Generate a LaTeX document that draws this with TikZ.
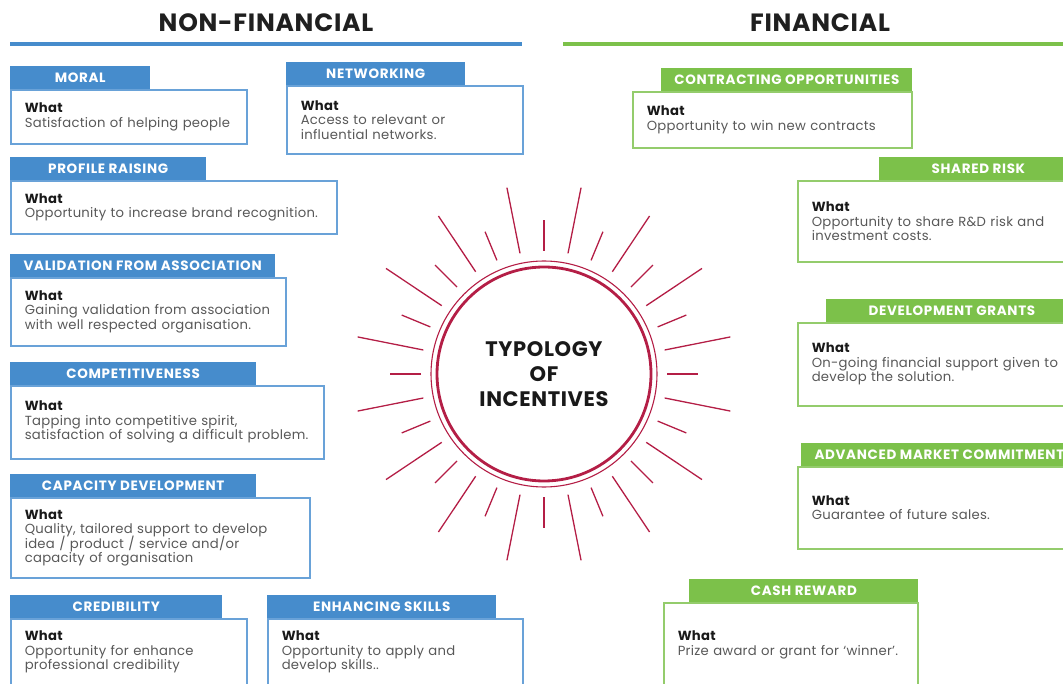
\documentclass[tikz,border=0pt]{standalone}
\usepackage{fontspec}
\setmainfont{Poppins}
\usetikzlibrary{positioning}

\definecolor{nfblue}{RGB}{70,140,204}
\definecolor{nfframe}{RGB}{105,162,216}
\definecolor{fgreen}{RGB}{124,193,74}
\definecolor{fframe}{RGB}{148,204,108}
\definecolor{sunred}{RGB}{180,30,70}
\definecolor{bodygray}{RGB}{88,88,88}

% body text: even baselines, whatever the glyph depths
\newcommand{\cardfont}{\fontsize{13.2}{14.5}\selectfont
  \setlength{\lineskiplimit}{-10pt}\addfontfeatures{LetterSpace=2}}

\begin{document}
\begin{tikzpicture}[x=1pt, y=-1pt,
  font=\cardfont,
  headtitle/.style={font=\fontsize{25}{28}\selectfont\bfseries\addfontfeatures{LetterSpace=3},
              text=black!88},
  card/.style 2 args={draw, line width=1.6pt, anchor=north west, align=left,
              inner xsep=14pt, inner ysep=0pt, text width={#1pt-28pt},
              minimum height=#2pt, text=bodygray},
  bluecard/.style 2 args={card={#1}{#2}, draw=nfframe},
  greencard/.style 2 args={card={#1}{#2}, draw=fframe},
  tab/.style={text=white, inner sep=0pt, minimum height=23pt,
              font=\fontsize{13.5}{15}\selectfont\bfseries\addfontfeatures{LetterSpace=5}},
  bluetab/.style={tab, fill=nfblue},
  greentab/.style={tab, fill=fgreen},
  ray/.style={draw=sunred, line width=1.3pt},
  core/.style={circle, draw=sunred, line width=2.8pt, minimum size=214pt,
               align=center, text=black!90,
               font=\fontsize{21}{25}\selectfont\bfseries\addfontfeatures{LetterSpace=3}}
]
\clip (0,0) rectangle (1063,684);

% ---- column headings --------------------------------------
\node[headtitle] (nonfin) at (266,23) {NON-FINANCIAL};
\node[headtitle] (fin)    at (820,23) {FINANCIAL};
\draw[nfblue, line width=4pt] (10,44) -- (522,44);
\draw[fgreen, line width=4pt] (563,44) -- (1070,44);

% ---- centre ------------------------------------------------
\node[core] (typology) at (544,374) {TYPOLOGY\\OF\\INCENTIVES};
\draw[sunred, line width=1.1pt] (typology.center) circle (113);
\foreach \i in {0,...,31}{
  \pgfmathsetmacro\ang{\i*11.25}
  \ifodd\i \def\len{67}\else\def\len{31}\fi
  \draw[ray] (typology.center) ++(\ang:123) -- ++(\ang:\len);
}

% ---- non-financial cards (tab sits on the left) ------------
\node[bluecard={236}{54}] (moral) at (10,89)
  {\textcolor{black!90}{\bfseries What}\\Satisfaction of helping people};
\node[bluetab, minimum width=140pt, above right=0pt and 0pt of moral.north west] (moraltab) {MORAL};

\node[bluecard={236}{68}] (networking) at (286,85)
  {\textcolor{black!90}{\bfseries What}\\Access to relevant or\\influential networks.};
\node[bluetab, minimum width=179pt, above right=0pt and 0pt of networking.north west] (networkingtab) {NETWORKING};

\node[bluecard={326}{53}] (profile) at (10,180)
  {\textcolor{black!90}{\bfseries What}\\Opportunity to increase brand recognition.};
\node[bluetab, minimum width=196pt, above right=0pt and 0pt of profile.north west] (profiletab) {PROFILE RAISING};

\node[bluecard={275}{68}] (validation) at (10,277)
  {\textcolor{black!90}{\bfseries What}\\Gaining validation from association\\with well respected organisation.};
\node[bluetab, minimum width=265pt, above right=0pt and 0pt of validation.north west] (validationtab) {VALIDATION FROM ASSOCIATION};

\node[bluecard={313}{73}] (compet) at (10,385)
  {\textcolor{black!90}{\bfseries What}\\Tapping into competitive spirit,\\satisfaction of solving a difficult problem.};
\node[bluetab, minimum width=246pt, above right=0pt and 0pt of compet.north west] (compettab) {COMPETITIVENESS};

\node[bluecard={299}{80}] (capacity) at (10,497)
  {\textcolor{black!90}{\bfseries What}\\Quality, tailored support to develop\\idea / product / service and/or\\capacity of organisation};
\node[bluetab, minimum width=246pt, above right=0pt and 0pt of capacity.north west] (capacitytab) {CAPACITY DEVELOPMENT};

\node[bluecard={236}{67}] (credibility) at (10,618)
  {\textcolor{black!90}{\bfseries What}\\Opportunity for enhance\\professional credibility};
\node[bluetab, minimum width=212pt, above right=0pt and 0pt of credibility.north west] (credibilitytab) {CREDIBILITY};

\node[bluecard={255}{67}] (skills) at (267,618)
  {\textcolor{black!90}{\bfseries What}\\Opportunity to apply and\\develop skills..};
\node[bluetab, minimum width=229pt, above right=0pt and 0pt of skills.north west] (skillstab) {ENHANCING SKILLS};

% ---- financial cards (tab sits on the right) ---------------
\node[greencard={279}{56}] (contracting) at (632,91)
  {\textcolor{black!90}{\bfseries What}\\Opportunity to win new contracts};
\node[greentab, minimum width=251pt, above left=0pt and 0pt of contracting.north east] (contractingtab) {CONTRACTING OPPORTUNITIES};

\node[greencard={279}{81}] (sharedrisk) at (797,180)
  {\textcolor{black!90}{\bfseries What}\\Opportunity to share R\&D risk and\\investment costs.};
\node[greentab, minimum width=198pt, above left=0pt and 0pt of sharedrisk.north east] (sharedrisktab) {SHARED RISK};

\node[greencard={279}{83}] (grants) at (797,322)
  {\textcolor{black!90}{\bfseries What}\\On-going financial support given to\\develop the solution.};
\node[greentab, minimum width=251pt, above left=0pt and 0pt of grants.north east] (grantstab) {DEVELOPMENT GRANTS};

\node[greencard={279}{82}] (amc) at (797,466)
  {\textcolor{black!90}{\bfseries What}\\Guarantee of future sales.};
\node[greentab, minimum width=276pt, above left=0pt and 0pt of amc.north east] (amctab) {ADVANCED MARKET COMMITMENT};

\node[greencard={254}{84}] (cash) at (663,602)
  {\textcolor{black!90}{\bfseries What}\\Prize award or grant for ‘winner’.};
\node[greentab, minimum width=229pt, above left=0pt and 0pt of cash.north east] (cashtab) {CASH REWARD};

\end{tikzpicture}
\end{document}
